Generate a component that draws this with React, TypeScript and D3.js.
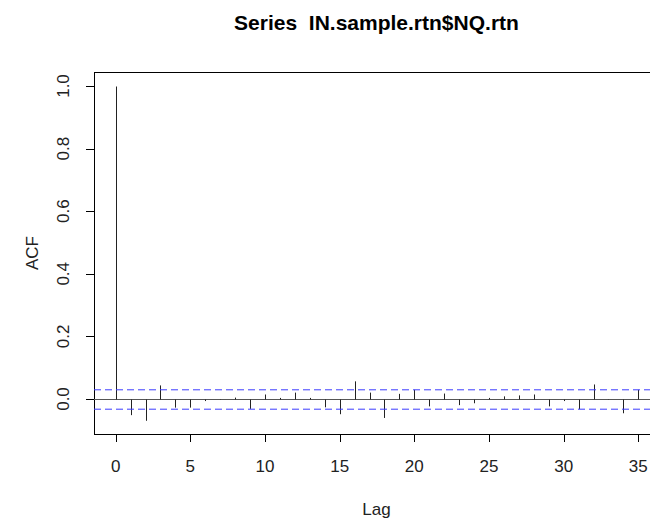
import React from 'react';
import * as d3 from 'd3';

// autocorrelations, lag 0..35
const lags = d3.range(0, 36);
const acfValues = [
  1.0, -0.050, -0.068, 0.045, -0.026, -0.026, -0.005, 0.001, 0.006, -0.030,
  0.016, 0.005, 0.022, 0.005, -0.025, -0.047, 0.058, 0.022, -0.059, 0.018,
  0.031, -0.022, 0.019, -0.018, -0.012, 0.005, 0.010, 0.013, 0.016, -0.022,
  -0.005, -0.031, 0.048, 0.001, -0.044, 0.031,
];
const ciBound = 0.031;
const xTicks = [0, 5, 10, 15, 20, 25, 30, 35];
const yTicks = [0.0, 0.2, 0.4, 0.6, 0.8, 1.0];

const font = 'Liberation Sans, Arial, sans-serif';

const App = () => {
  const width = 650;
  const height = 520;
  // right edge of the frame sits just past the window, as in the original crop
  const box = { left: 94, right: 659, top: 72, bottom: 434 };

  const x = d3.scaleLinear().domain([0, 35]).range([115.7, 638.3]);
  const y = d3.scaleLinear().domain([0, 1]).range([399, 86]);

  return (
    <svg
      width={width}
      height={height}
      style={{ position: 'fixed', left: 0, top: 0, background: '#fff' }}
      fontFamily={font}
    >
      <text
        x={(box.left + box.right) / 2}
        y={30}
        textAnchor="middle"
        fontSize={21}
        fontWeight="bold"
        fill="#000"
        style={{ whiteSpace: 'pre' }}
      >
        {'Series  IN.sample.rtn$NQ.rtn'}
      </text>

      {/* plot frame */}
      <rect
        x={box.left + 0.5}
        y={box.top + 0.5}
        width={box.right - box.left}
        height={box.bottom - box.top}
        fill="none"
        stroke="#000"
      />

      {/* zero line */}
      <line x1={box.left} x2={box.right} y1={y(0) + 0.5} y2={y(0) + 0.5} stroke="#555" />

      {/* acf spikes */}
      {lags.map((lag, i) => (
        <line
          key={lag}
          x1={Math.round(x(lag)) + 0.5}
          x2={Math.round(x(lag)) + 0.5}
          y1={y(0) + 0.5}
          y2={y(acfValues[i]) + 0.5}
          stroke="#222"
        />
      ))}

      {/* confidence bounds */}
      {[ciBound, -ciBound].map((b) => (
        <line
          key={b}
          x1={box.left}
          x2={box.right}
          y1={y(b) + 0.5}
          y2={y(b) + 0.5}
          stroke="#3c3cff"
          strokeDasharray="7,4"
        />
      ))}

      {/* x axis */}
      {xTicks.map((t) => (
        <g key={t}>
          <line
            x1={Math.round(x(t)) + 0.5}
            x2={Math.round(x(t)) + 0.5}
            y1={box.bottom}
            y2={box.bottom + 8}
            stroke="#000"
          />
          <text x={x(t)} y={472} textAnchor="middle" fontSize={17} fill="#222">
            {t}
          </text>
        </g>
      ))}

      {/* y axis */}
      {yTicks.map((t) => (
        <g key={t}>
          <line x1={box.left - 8} x2={box.left} y1={Math.round(y(t)) + 0.5} y2={Math.round(y(t)) + 0.5} stroke="#000" />
          <text
            transform={`translate(69,${y(t)}) rotate(-90)`}
            textAnchor="middle"
            fontSize={17}
            fill="#222"
          >
            {t.toFixed(1)}
          </text>
        </g>
      ))}

      <text x={(box.left + box.right) / 2} y={515} textAnchor="middle" fontSize={17} fill="#222">
        Lag
      </text>
      <text transform={`translate(38,${(box.top + box.bottom) / 2}) rotate(-90)`} textAnchor="middle" fontSize={17} fill="#222">
        ACF
      </text>
    </svg>
  );
};

export default App;
